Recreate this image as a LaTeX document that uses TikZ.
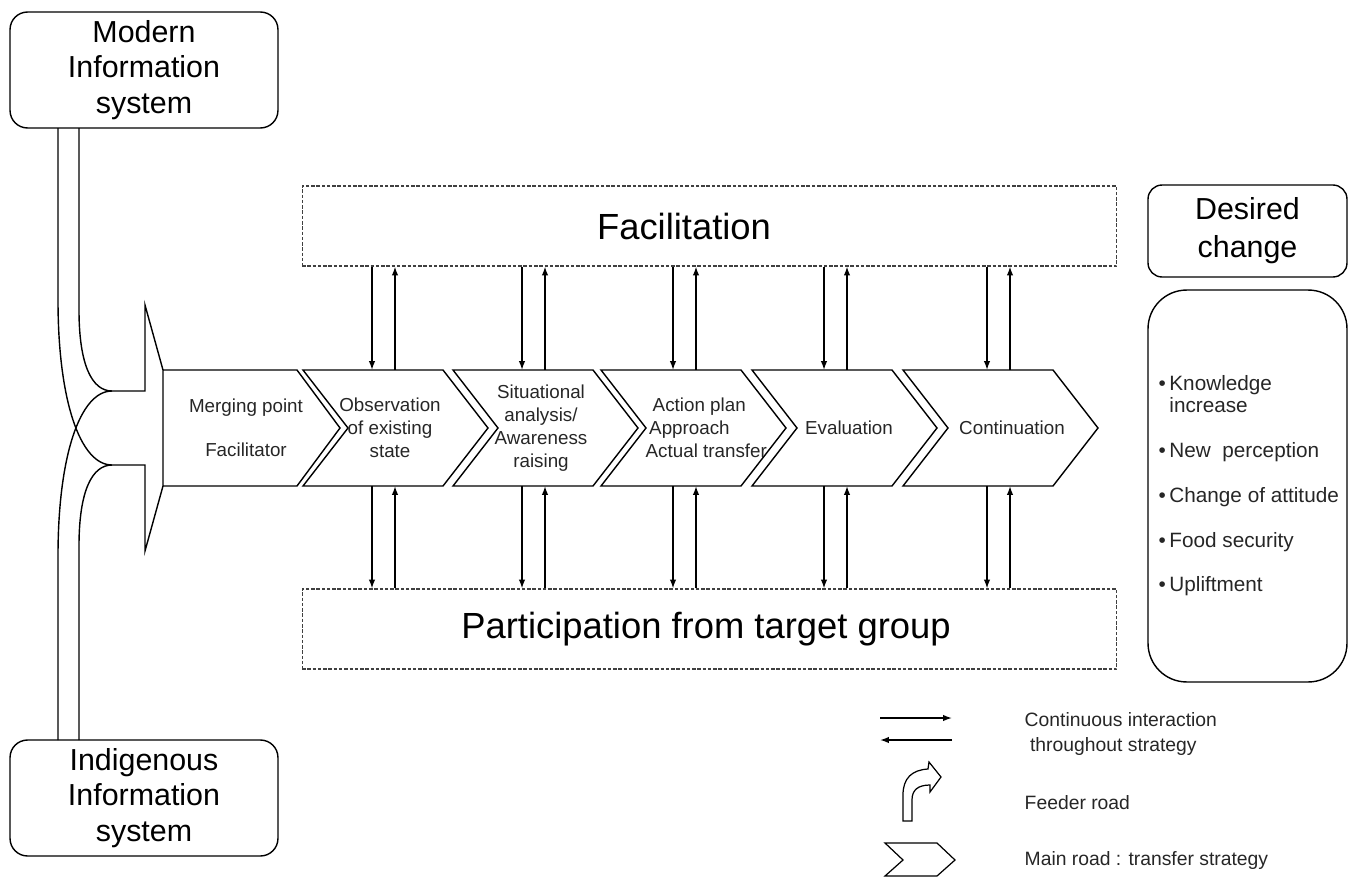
\documentclass[tikz,border=0pt]{standalone}
\usepackage{fontspec}
\setmainfont{Liberation Sans}
\usetikzlibrary{arrows.meta,positioning,calc}

\begin{document}
\begin{tikzpicture}[
    x=0.02cm, y=-0.02cm, line width=0.8pt,
    >={Latex[length=5pt,width=3.6pt]},
    sysbox/.style={draw, rounded corners=10pt, minimum width=5.36cm, minimum height=2.32cm, align=center, font=\fontsize{17.3}{20.4}\selectfont},
    band/.style={draw=black!75, dash pattern=on 2pt off 1pt, line width=0.6pt, minimum width=16.3cm, minimum height=1.6cm},
    bandtext/.style={font=\fontsize{20.7}{24}\selectfont, inner sep=0pt},
    steptext/.style={font=\fontsize{10.7}{13.2}\selectfont, align=center, inner sep=0pt, text=black!85},
    keytext/.style={font=\fontsize{11}{14}\selectfont, align=left, anchor=west, inner sep=0pt, text=black!85}
]
\useasboundingbox (0,0) rectangle (1349,879);

% information systems
\node[sysbox] (modern) at (144,70) {Modern\\Information\\system};
\node[sysbox] (indig) at (144,798) {Indigenous\\Information\\system};

% feeder roads merging into the main road
\draw (58,128) -- (58,300) .. controls (58,400) and (80,465) .. (112,465) -- (145,465) -- (145,551) -- (163,486);
\draw (79,128) -- (79,310) .. controls (79,365) and (92,391) .. (112,391) -- (145,391) -- (145,305) -- (163,370);
\draw (58,740) -- (58,556) .. controls (58,456) and (80,391) .. (112,391);
\draw (79,740) -- (79,546) .. controls (79,491) and (92,465) .. (112,465);

% main road
\draw[line join=miter] (163,370) -- (297,370) -- (340,428) -- (297,486) -- (163,486) -- cycle;
\foreach \x/\l in {303/140,453/140,601/140,752/140,903/150}
  \draw[line join=miter] (\x,370) -- ++(\l,0) -- ++(45,58) -- ++(-45,58) -- ++(-\l,0) -- ++(45,-58) -- cycle;

\node[steptext] (merge) at (246,428) {Merging point\\[12pt]Facilitator};
\node[steptext] (observe) at (390,428) {Observation\\of existing\\state};
\node[steptext] (situation) at (541,428) {Situational\\analysis/\\Awareness\\raising};
\node[steptext, align=left, anchor=west] (action) at (645,428) {\hspace*{4pt}Action plan\\\hspace*{2pt}Approach\\Actual transfer};
\node[steptext] (evaluate) at (849,428) {Evaluation};
\node[steptext] (continue) at (1012,428) {Continuation};

% facilitation and participation
\node[band] (facil) at (709.5,226) {};
\node[bandtext] (faciltext) at (684,226) {Facilitation};
\node[band] (partic) at (709.5,629) {};
\node[bandtext] (partictext) at (706,629) {Participation from target group};

\foreach \i/\x in {1/372,2/522,3/673,4/824,5/987} {
  \coordinate (tin\i) at (\x,370);
  \coordinate (tout\i) at (\x+23,370);
  \coordinate (bout\i) at (\x,486);
  \coordinate (bin\i) at (\x+23,486);
  \draw[->] (facil.south -| tin\i) -- (tin\i);
  \draw[->] (tout\i) -- (facil.south -| tout\i);
  \draw[->] (bout\i) -- (partic.north -| bout\i);
  \draw[->] (partic.north -| bin\i) -- (bin\i);
}

% desired change
\node[draw, rounded corners=8pt, minimum width=3.98cm, minimum height=1.84cm, align=center,
      font=\fontsize{17.3}{21.5}\selectfont] (desired) at (1247.5,231) {Desired\\change};
\node[draw, rounded corners=22pt, minimum width=3.98cm, minimum height=7.84cm] (changes) at (1247.5,486) {};
\node[keytext, font=\fontsize{11.8}{12.5}\selectfont] (changelist) at (1158,486)
  {\textbullet\,Knowledge\\\phantom{\textbullet\,}increase\\[13pt]
   \textbullet\,New\ \ perception\\[13pt]
   \textbullet\,Change of attitude\\[13pt]
   \textbullet\,Food security\\[13pt]
   \textbullet\,Upliftment};

% legend
\coordinate (keyA1) at (880,718);
\coordinate (keyA2) at (952,718);
\coordinate (keyB1) at (880,740);
\coordinate (keyB2) at (952,740);
\draw[->] (keyA1) -- (keyA2);
\draw[->] (keyB2) -- (keyB1);
\node[keytext] (keyinter) at (1024,734) {Continuous interaction\\\ throughout strategy};

\draw[line width=0.7pt] (903,821) -- (903,795) .. controls (903,778) and (912,770) .. (928,769)
  -- (929,762) -- (941,777) -- (930,792) -- (930,785)
  .. controls (918,785) and (912,790) .. (912,800) -- (912,821) -- cycle;
\node[keytext] (keyfeeder) at (1024,803) {Feeder road};

\draw[line width=0.7pt, line join=miter] (885,843) -- (937,843) -- (955,860) -- (937,876) -- (885,876) -- (903,860) -- cycle;
\node[keytext] (keymain) at (1024,860) {Main road : transfer strategy};
\end{tikzpicture}
\end{document}
